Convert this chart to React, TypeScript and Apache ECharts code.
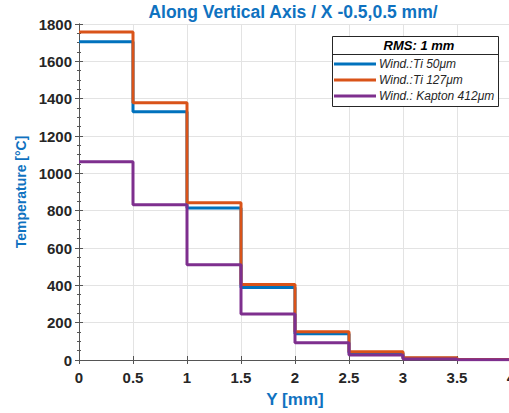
import React, { useEffect, useRef } from "react";
import * as echarts from "echarts";

const xEdges = [0, 0.5, 1, 1.5, 2, 2.5, 3, 3.5, 4];
const tiThin = [1705, 1330, 814, 388, 140, 38, 10, 3];
const tiThick = [1757, 1378, 842, 404, 151, 44, 12, 3];
const kapton = [1062, 832, 510, 246, 92, 27, 6, 2];
const seriesNames = ["Wind.:Ti 50μm", "Wind.:Ti 127μm", "Wind.: Kapton 412μm"];
const colors = ["#0072BD", "#D95319", "#7E2F8E"];

const toSteps = (vals: number[]) => {
  const pts: [number, number][] = vals.map((v, i) => [xEdges[i], v]);
  pts.push([xEdges[xEdges.length - 1], vals[vals.length - 1]]);
  return pts;
};

export default function App() {
  const ref = useRef<HTMLDivElement>(null);
  useEffect(() => {
    const chart = echarts.init(ref.current!, undefined, { renderer: "svg" });
    const blue = "#0F72C0";
    const dark = "#262626";
    const axisCol = "#555";
    const all = [tiThin, tiThick, kapton];
    const font = "Liberation Sans";
    chart.setOption({
      animation: false,
      backgroundColor: "#fff",
      title: {
        text: "Along Vertical Axis / X -0.5,0.5 mm/",
        left: 293,
        textAlign: "center",
        top: 3,
        padding: 0,
        textStyle: { color: blue, fontSize: 17.5, fontWeight: "bold", fontFamily: font },
      },
      grid: { left: 79, top: 24, width: 432, height: 336, outerBoundsMode: "none", containLabel: false },
      legend: {
        left: 334,
        top: 56,
        padding: 0,
        z: 60,
        orient: "vertical",
        itemWidth: 42,
        itemHeight: 3,
        itemGap: 0,
        icon: "rect",
        textStyle: {
          fontStyle: "italic",
          fontSize: 12,
          lineHeight: 16,
          height: 16,
          color: dark,
          fontFamily: font,
          padding: [0, 0, 0, -2],
        },
        data: seriesNames,
      },
      graphic: [
        {
          type: "rect",
          z: 50,
          shape: { x: 332.5, y: 36.5, width: 166, height: 70 },
          style: { fill: "#fff", stroke: "#262626", lineWidth: 1 },
        },
        {
          type: "line",
          z: 51,
          shape: { x1: 333, y1: 54.5, x2: 498, y2: 54.5 },
          style: { stroke: "#262626", lineWidth: 1 },
        },
        {
          type: "text",
          z: 51,
          x: 419,
          y: 45.5,
          style: {
            text: "RMS: 1 mm",
            fill: "#000",
            font: `italic bold 13px '${font}'`,
            textAlign: "center",
            textVerticalAlign: "middle",
          },
        },
      ],
      xAxis: [
        {
          type: "value",
          min: 0,
          max: 4,
          interval: 0.5,
          name: "Y [mm]",
          nameLocation: "middle",
          nameGap: 31,
          nameTextStyle: { color: blue, fontSize: 17, fontWeight: "bold", fontFamily: font },
          axisLine: { show: true, lineStyle: { color: axisCol, width: 1 } },
          axisTick: { show: true, inside: true, length: 4, lineStyle: { color: axisCol } },
          axisLabel: {
            color: dark,
            fontSize: 15,
            fontWeight: "bold",
            fontFamily: font,
            margin: 10,
            hideOverlap: false,
            showMaxLabel: true,
          },
          splitLine: { show: true, lineStyle: { color: "#e3e3e3", width: 1 } },
        },
        {
          type: "value",
          position: "top",
          min: 0,
          max: 4,
          interval: 0.5,
          axisLine: { show: true, lineStyle: { color: axisCol, width: 1 } },
          axisTick: { show: true, inside: true, length: 4, lineStyle: { color: axisCol } },
          axisLabel: { show: false },
          splitLine: { show: false },
        },
      ],
      yAxis: [
        {
          type: "value",
          min: 0,
          max: 1800,
          interval: 200,
          name: "Temperature [°C]",
          nameLocation: "middle",
          nameGap: 35,
          nameTextStyle: { color: blue, fontSize: 14, fontWeight: "bold", fontFamily: font },
          axisLine: { show: true, lineStyle: { color: axisCol, width: 1 } },
          axisTick: { show: true, inside: true, length: 4, lineStyle: { color: axisCol } },
          minorTick: { show: true, splitNumber: 4, length: 2, lineStyle: { color: axisCol } },
          axisLabel: {
            color: dark,
            fontSize: 15,
            fontWeight: "bold",
            fontFamily: font,
            margin: 7,
            formatter: (v: number) => String(v),
          },
          splitLine: { show: true, lineStyle: { color: "#e3e3e3", width: 1 } },
        },
        {
          type: "value",
          position: "right",
          min: 0,
          max: 1800,
          interval: 200,
          axisLine: { show: true, lineStyle: { color: axisCol, width: 1 } },
          axisTick: { show: true, inside: true, length: 4, lineStyle: { color: axisCol } },
          minorTick: { show: true, splitNumber: 4, length: 2, lineStyle: { color: axisCol } },
          axisLabel: { show: false },
          splitLine: { show: false },
        },
      ],
      series: all.map((vals, i) => ({
        name: seriesNames[i],
        type: "line",
        step: "end",
        data: toSteps(vals),
        showSymbol: false,
        symbol: "none",
        color: colors[i],
        lineStyle: { color: colors[i], width: 3 },
        z: 2 + i,
      })),
    });
    return () => chart.dispose();
  }, []);
  return <div ref={ref} style={{ width: 509, height: 413, position: "absolute", left: 0, top: 0 }} />;
}
